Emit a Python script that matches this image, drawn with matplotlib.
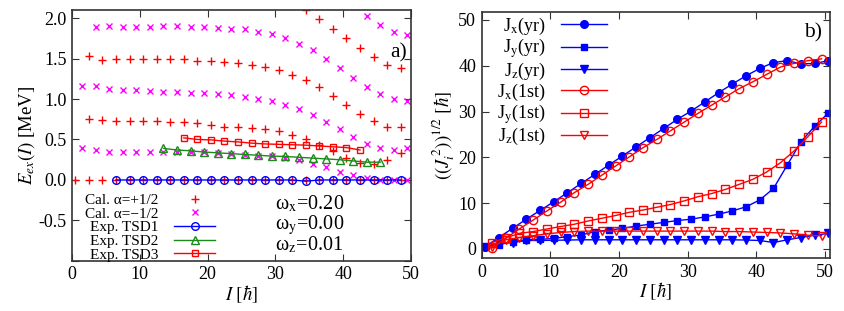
import numpy as np
import matplotlib
matplotlib.use("Agg")
import matplotlib.pyplot as plt

plt.rcParams['font.family'] = ['Liberation Serif', 'DejaVu Serif']
plt.rcParams['mathtext.fontset'] = 'stix'
plt.rcParams['axes.unicode_minus'] = False

nan = np.nan

# ---- panel a) : excitation energies ----
I_plus = np.arange(0.5, 49, 2.0)      # alpha = +1/2
I_minus = np.arange(1.5, 50, 2.0)     # alpha = -1/2

plus_bands = [
    [0.0] * 25,
    [nan, 0.75, 0.74, 0.73, 0.73, 0.73, 0.73, 0.72, 0.71, 0.70, 0.68, 0.66, 0.655,
     0.645, 0.625, 0.60, 0.56, 0.51, 0.43, 0.36, 0.27, 0.21, 0.20, 0.25, 0.33],
    [nan, 1.53, 1.48, 1.49, 1.495, 1.50, 1.495, 1.495, 1.49, 1.475, 1.466, 1.455, 1.44,
     1.42, 1.40, 1.355, 1.30, 1.24, 1.15, 1.04, 0.93, 0.82, 0.73, 0.66, 0.66],
    [nan] * 17 + [2.10, 1.99, 1.87, 1.75, 1.63, 1.52, 1.42, 1.38],
]
minus_bands = [
    [0.40, 0.37, 0.35, 0.35, 0.35, 0.35, 0.35, 0.35, 0.34, 0.34, 0.33, 0.32, 0.31,
     0.30, 0.29, 0.27, 0.25, 0.20, 0.155, 0.10, 0.06, 0.02, 0.0, 0.0, 0.0],
    [1.16, 1.16, 1.12, 1.11, 1.11, 1.10, 1.09, 1.085, 1.08, 1.07, 1.06, 1.045, 1.03,
     1.00, 0.97, 0.93, 0.88, 0.80, 0.71, 0.63, 0.53, 0.45, 0.39, 0.37, 0.39],
    [nan, 1.895, 1.90, 1.89, 1.89, 1.895, 1.90, 1.90, 1.895, 1.89, 1.875, 1.87, 1.86,
     1.83, 1.80, 1.75, 1.68, 1.60, 1.50, 1.38, 1.26, 1.15, 1.06, 0.995, 0.975],
    [nan] * 21 + [2.02, 1.92, 1.83, 1.785],
]

I_tsd1 = np.arange(6.5, 49, 2.0)
E_tsd1 = [0.0] * 14 + [-0.015] + [0.0] * 7
I_tsd2 = np.arange(13.5, 46, 2.0)
E_tsd2 = [0.39, 0.37, 0.36, 0.345, 0.335, 0.325, 0.315, 0.305, 0.295, 0.29, 0.28,
          0.27, 0.26, 0.25, 0.235, 0.22, 0.22]
I_tsd3 = np.arange(16.5, 43, 2.0)
E_tsd3 = [0.52, 0.50, 0.495, 0.48, 0.47, 0.455, 0.445, 0.44, 0.435, 0.43, 0.42,
          0.41, 0.40, 0.37]

# ---- panel b) : angular momentum components ----
I_yr = np.arange(0.5, 51, 2.0)
Jx_yr = [0.5, 2.5, 4.5, 6.5, 8.4, 10.3, 12.3, 14.3, 16.3, 18.3, 20.3, 22.3, 24.3,
         26.3, 28.3, 30.1, 32.1, 34.1, 36.0, 37.8, 39.4, 40.7, 41.1, 40.4, 40.5, 41.1]
Jy_yr = [0.5, 0.9, 1.6, 2.0, 2.1, 2.3, 2.7, 3.05, 3.8, 4.1, 4.5, 5.0, 5.4, 5.8, 6.2,
         6.5, 7.0, 7.6, 8.3, 9.2, 10.7, 13.2, 18.3, 23.4, 26.8, 29.7]
Jz_yr = [0.5, 1.2, 1.4, 1.85, 1.85, 1.9, 1.95, 2.0, 2.0, 2.0, 2.0, 2.0, 2.0, 2.0,
         2.0, 2.0, 2.0, 2.0, 2.0, 1.95, 1.85, 1.4, 2.0, 2.5, 3.0, 3.4]
I_1st = np.arange(1.5, 50, 2.0)
Jx_1st = [0.2, 2.3, 4.4, 6.3, 8.3, 10.2, 12.3, 14.1, 16.1, 18.1, 20.1, 22.1, 23.9,
          25.8, 27.7, 29.6, 31.4, 33.2, 35.0, 36.5, 38.1, 39.7, 40.5, 41.1, 41.5]
Jy_1st = [1.4, 2.4, 3.4, 3.8, 4.36, 4.9, 5.4, 6.1, 6.7, 7.3, 8.0, 8.5, 9.1, 9.7,
          10.5, 11.4, 12.1, 13.0, 14.1, 15.2, 16.8, 18.8, 21.4, 24.5, 27.7]
Jz_1st = [0.5, 2.0, 2.5, 2.9, 3.3, 3.6, 3.8, 3.9, 3.9, 3.9, 3.9, 3.9, 3.9, 3.9,
          3.9, 3.9, 3.9, 3.8, 3.8, 3.7, 3.6, 3.5, 3.3, 3.0, 2.9]

RED = '#ff0000'
MAG = '#ff00ff'
BLUE = '#0000ff'
GREEN = '#1a8a1a'
FRAME = '#333333'


def style_axes(ax):
    for s in ax.spines.values():
        s.set_color(FRAME)
        s.set_linewidth(1.2)
    ax.tick_params(direction='in', top=True, right=True, length=5, width=0.8,
                   color=FRAME, labelsize=13, pad=4)


fig = plt.figure(figsize=(8.45, 3.11), dpi=100)

# ---------------- panel a ----------------
ax1 = fig.add_axes([0.0852, 0.161, 0.401, 0.807])
for k, band in enumerate(plus_bands):
    ax1.plot(I_plus, band, ls='none', marker='+', ms=6, mew=1.0, color=RED,
             label='Cal. α=+1/2' if k == 0 else None)
for k, band in enumerate(minus_bands):
    ax1.plot(I_minus, band, ls='none', marker='x', ms=4.5, mew=1.0, color=MAG,
             label='Cal. α=−1/2' if k == 0 else None)
ax1.plot(I_tsd1, E_tsd1, '-', marker='o', ms=5.5, mfc='none', mew=1.0, lw=1.0,
         color=BLUE, label='Exp. TSD1')
ax1.plot(I_tsd2, E_tsd2, '-', marker='^', ms=5.5, mfc='none', mew=1.0, lw=1.0,
         color=GREEN, label='Exp. TSD2')
ax1.plot(I_tsd3, E_tsd3, '-', marker='s', ms=5, mfc='none', mew=1.0, lw=1.0,
         color=RED, label='Exp. TSD3')

ax1.set_xlim(0, 50)
ax1.set_ylim(-1.0, 2.1)
ax1.set_xticks([0, 10, 20, 30, 40, 50])
ax1.set_yticks([-1.0, -0.5, 0.0, 0.5, 1.0, 1.5, 2.0])
ax1.set_yticklabels(['', '-0.5', '0.0', '0.5', '1.0', '1.5', '2.0'])
style_axes(ax1)
ax1.set_xlabel(r'$I\ [\hbar]$', fontsize=13.5, labelpad=0)
ax1.set_ylabel(r'$E_{ex}(I)$ [MeV]', fontsize=13.5, labelpad=1)
ax1.legend(loc='lower left', bbox_to_anchor=(0.03, -0.015), frameon=False,
           markerfirst=False, fontsize=11, handlelength=2.7, handletextpad=1.0,
           labelspacing=0.0, borderpad=0.2, borderaxespad=0.0, numpoints=1)
ax1.text(0.60, 0.226, r'ω$_{\rm x}$=0.20', transform=ax1.transAxes, fontsize=14.5,
         va='center', ha='left')
ax1.text(0.60, 0.144, r'ω$_{\rm y}$=0.00', transform=ax1.transAxes, fontsize=14.5,
         va='center', ha='left')
ax1.text(0.60, 0.062, r'ω$_{\rm z}$=0.01', transform=ax1.transAxes, fontsize=14.5,
         va='center', ha='left')
ax1.text(0.965, 0.829, 'a)', transform=ax1.transAxes, fontsize=15.5,
         va='center', ha='center')

# ---------------- panel b ----------------
ax2 = fig.add_axes([0.570, 0.170, 0.412, 0.791])
ax2.plot(I_yr, Jx_yr, '-', marker='o', ms=5.5, lw=1.0, color=BLUE,
         label=r'J$_{\rm x}$(yr)')
ax2.plot(I_yr, Jy_yr, '-', marker='s', ms=5, lw=1.0, color=BLUE,
         label=r'J$_{\rm y}$(yr)')
ax2.plot(I_yr, Jz_yr, '-', marker='v', ms=5.5, lw=1.0, color=BLUE,
         label=r'J$_{\rm z}$(yr)')
ax2.plot(I_1st, Jx_1st, '-', marker='o', ms=6, mfc='none', mew=1.0, lw=1.0,
         color=RED, label=r'J$_{\rm x}$(1st)')
ax2.plot(I_1st, Jy_1st, '-', marker='s', ms=5.5, mfc='none', mew=1.0, lw=1.0,
         color=RED, label=r'J$_{\rm y}$(1st)')
ax2.plot(I_1st, Jz_1st, '-', marker='v', ms=6, mfc='none', mew=1.0, lw=1.0,
         color=RED, label=r'J$_{\rm z}$(1st)')

ax2.set_xlim(0, 50.7)
ax2.set_ylim(-2, 51.7)
ax2.set_xticks([0, 10, 20, 30, 40, 50])
ax2.set_yticks([0, 10, 20, 30, 40, 50])
style_axes(ax2)
ax2.set_xlabel(r'$I\ [\hbar]$', fontsize=13.5, labelpad=0)
ax2.set_ylabel(r'$((J_i^{\,2}))^{1/2}\ [\hbar]$', fontsize=13.5, labelpad=1)
ax2.legend(loc='upper left', bbox_to_anchor=(0.035, 1.0), frameon=False,
           markerfirst=False, fontsize=13, handlelength=2.6, handletextpad=0.8,
           labelspacing=0.0, borderpad=0.2, borderaxespad=0.0, numpoints=1)
ax2.text(0.951, 0.915, 'b)', transform=ax2.transAxes, fontsize=15.5,
         va='center', ha='center')

fig.savefig('out.png', dpi=100)
